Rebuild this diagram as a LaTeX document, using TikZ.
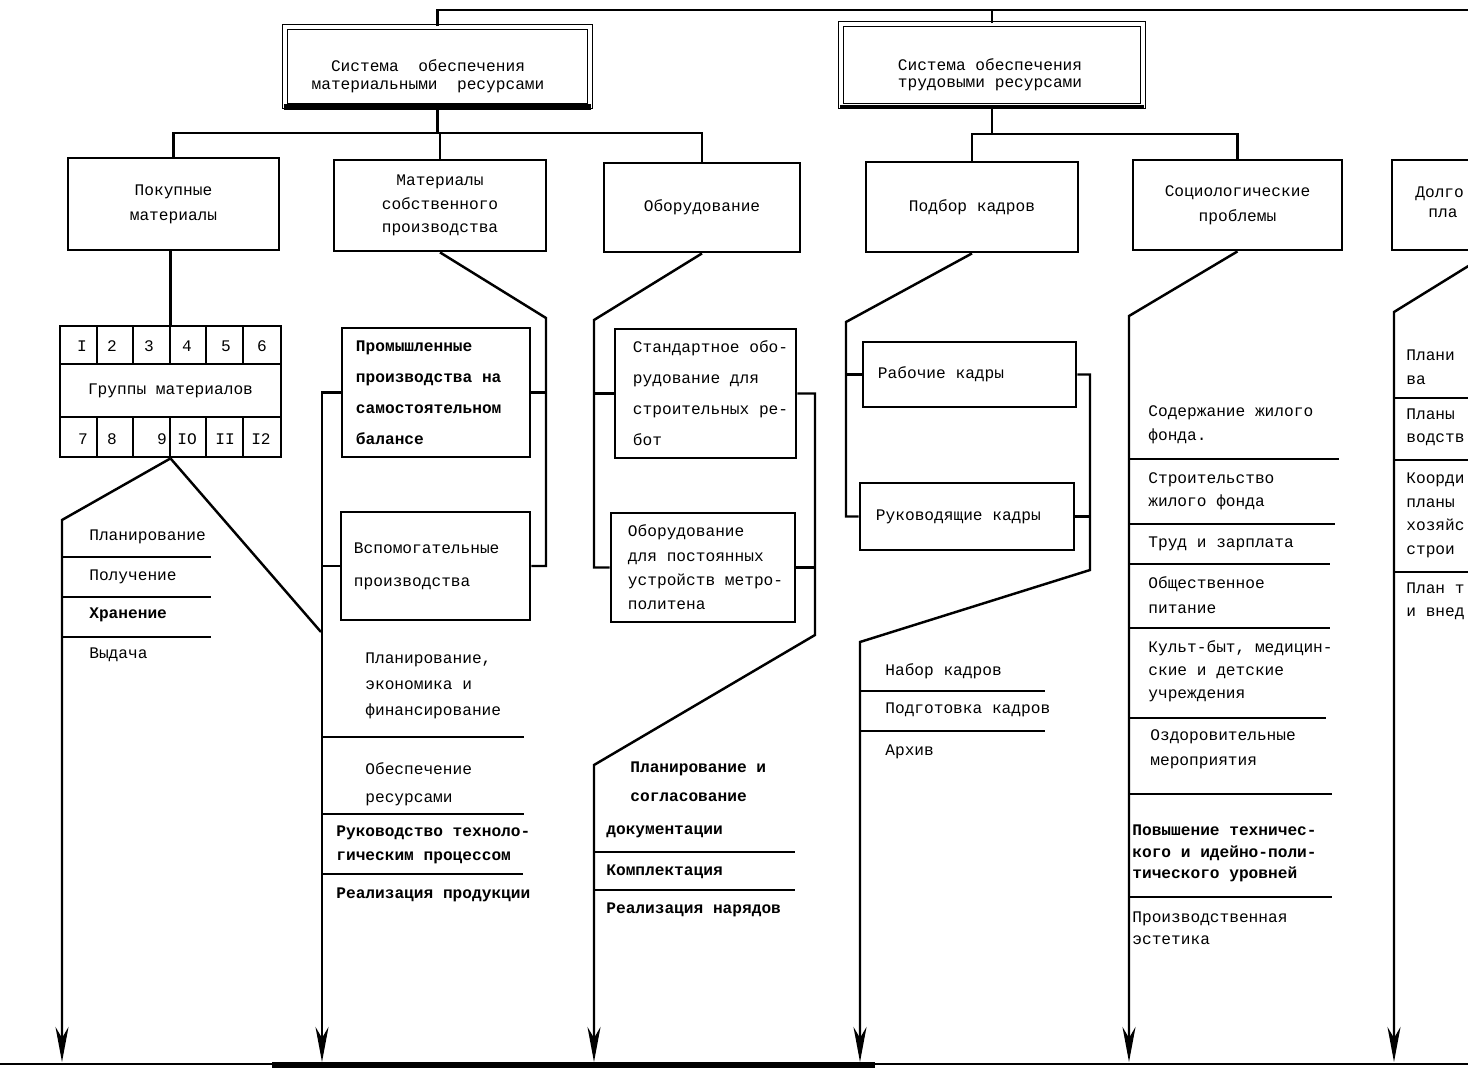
\documentclass[tikz,border=0pt]{standalone}
\usepackage{fontspec}
\setmainfont{Liberation Mono}
\setmonofont{Liberation Mono}
\usetikzlibrary{arrows.meta,positioning}

\newcommand{\tsk}[1]{\fontsize{9.2}{#1}\selectfont}

\tikzset{
  sysbox/.style={draw, double, double distance=1.8pt, line width=0.9pt, inner sep=0pt},
  blk/.style={draw, line width=1.6pt, inner sep=0pt, align=center},
  txt/.style={inner sep=0pt, align=left, anchor=west},
  conn/.style={line width=1.4pt},
  sepl/.style={line width=1.5pt},
  arr/.style={-{Stealth[length=0.7cm, width=0.26cm, inset=0.22cm]}},
}

\begin{document}
\begin{tikzpicture}[x=0.02cm, y=-0.02cm, font=\tsk{13}]
    \useasboundingbox (0,0) rectangle (1468,1068);
    \clip (0,0) rectangle (1468,1068);

    % systems
    \node[sysbox, minimum width=6.1cm, minimum height=1.58cm] (sysM) at (437.5,66.5) {};
    \node[align=center, inner sep=0pt, font=\tsk{10.2}] (sysMt) at (428,76)
        {Система~ обеспечения\\материальными~ ресурсами};
    \node[sysbox, minimum width=6.04cm, minimum height=1.64cm] (sysT) at (992,65) {};
    \node[align=center, inner sep=0pt, font=\tsk{9.5}] (sysTt) at (990,75)
        {Система обеспечения\\трудовыми ресурсами};
    \draw[line width=3.5pt] (sysM.south west) -- (sysM.south east);
    \draw[line width=2.5pt] (sysT.south west) -- (sysT.south east);

    \coordinate (topR) at (1468,10);
    \draw[conn] (sysM.north) |- (topR);
    \draw[conn] (sysT.north) -- (sysT.north |- topR);

    % second level
    \node[blk, minimum width=4.22cm, minimum height=1.84cm, font=\tsk{14.2}] (pokB) at (173.5,204) {Покупные\\материалы};
    \node[blk, minimum width=4.24cm, minimum height=1.82cm, font=\tsk{13.3}] (matB) at (440,205.5) {Материалы\\собственного\\производства};
    \node[blk, minimum width=3.92cm, minimum height=1.78cm] (obB) at (702,207.5) {Оборудование};
    \node[blk, minimum width=4.24cm, minimum height=1.8cm] (kadB) at (972,207) {Подбор кадров};
    \node[blk, minimum width=4.18cm, minimum height=1.8cm, font=\tsk{14.2}] (socB) at (1237.5,205) {Социологические\\проблемы};
    \node[blk, minimum width=4cm, minimum height=1.8cm] (dolB) at (1492,205) {};
    \node[txt, font=\tsk{11.3}] (dolT) at (1415,202) {Долго\\\hspace*{0.26cm}пла};

    \draw[conn] (sysM.south) -- ++(0,26) coordinate (busM);
    \draw[conn] (pokB.north) |- (obB.north |- busM) -- (obB.north);
    \draw[conn] (matB.north) -- (matB.north |- busM);
    \draw[conn] (sysT.south) -- ++(0,27) coordinate (busT);
    \draw[conn] (kadB.north) |- (busT) -| (socB.north);

    % groups of materials
    \node[blk, minimum width=4.42cm, minimum height=2.62cm] (grp) at (170.5,391.5) {};
    \node (grpT) at (170.5,391) {Группы материалов};
    \foreach \y in {364,417} \draw[sepl] (60,\y) -- (281,\y);
    \foreach \x in {97,133,170,206,243} {
        \draw[sepl] (\x,326) -- (\x,364);
        \draw[sepl] (\x,417) -- (\x,457);
    }
    \foreach \n/\x [count=\i] in {I/82,2/112,3/149,4/187,5/226,6/262}
        \node (nt\i) at (\x,346) {\n};
    \foreach \n/\x [count=\i] in {7/83,8/112,9/162,IO/187,II/225,I2/261}
        \node (nb\i) at (\x,439) {\n};
    \draw[conn] (grp.north) -- (grp.north |- pokB.south);

    % third level boxes
    \node[blk, minimum width=3.76cm, minimum height=2.58cm] (promB) at (436,392.5) {};
    \node[txt, font=\bfseries\tsk{17.6}, right=0.3cm of promB.west] (promT)
        {Промышленные\\производства на\\самостоятельном\\балансе};
    \node[blk, minimum width=3.78cm, minimum height=2.16cm] (vspB) at (435.5,566) {};
    \node[txt, font=\tsk{18.7}, right=0.28cm of vspB.west] (vspT)
        {Вспомогательные\\производства};
    \node[blk, minimum width=3.62cm, minimum height=2.58cm] (stdB) at (705.5,393.5) {};
    \node[txt, font=\tsk{17.6}, right=0.38cm of stdB.west] (stdT)
        {Стандартное обо-\\рудование для\\строительных ре-\\бот};
    \node[blk, minimum width=3.68cm, minimum height=2.18cm] (metB) at (703,567.5) {};
    \node[txt, font=\tsk{13.9}, right=0.36cm of metB.west] (metT)
        {Оборудование\\для постоянных\\устройств метро-\\политена};
    \node[blk, minimum width=4.26cm, minimum height=1.3cm] (rabB) at (969.5,374.5) {};
    \node[txt, right=0.32cm of rabB.west] (rabT) {Рабочие кадры};
    \node[blk, minimum width=4.28cm, minimum height=1.34cm] (rukB) at (967,516.5) {};
    \node[txt, right=0.34cm of rukB.west] (rukT) {Руководящие кадры};

    % column 1
    \coordinate (c1a) at (62,520);
    \coordinate (c1b) at (321,632);
    \coordinate (bot) at (0,1062);
    \draw[conn, arr] (grp.south) -- (c1a) -- (c1a |- bot);
    \draw[conn] (grp.south) -- (c1b);
    \node[txt] (l1a) at (89,537) {Планирование};
    \node[txt] (l1b) at (89,577) {Получение};
    \node[txt, font=\bfseries\tsk{13}] (l1c) at (89,615) {Хранение};
    \node[txt] (l1d) at (89,655) {Выдача};
    \foreach \y in {557,597,637} \draw[sepl] (62,\y) -- (211,\y);

    % column 2
    \coordinate (c2r) at (546,318);
    \coordinate (c2l) at (322,1062);
    \draw[conn] (matB.south) -- (c2r) |- (vspB.east);
    \draw[conn] (promB.east) -- (promB.east -| c2r);
    \draw[conn, arr] (promB.west) -| (c2l);
    \draw[conn] (vspB.west) -- (vspB.west -| c2l);
    \node[txt, font=\tsk{14.7}] (l2a) at (365,686) {Планирование,\\экономика и\\финансирование};
    \node[txt, font=\tsk{15.9}] (l2b) at (365,784) {Обеспечение\\ресурсами};
    \node[txt, font=\bfseries\tsk{13.6}] (l2c) at (336,845) {Руководство техноло-\\гическим процессом};
    \node[txt, font=\bfseries\tsk{13}] (l2d) at (336,895) {Реализация продукции};
    \draw[sepl] (322,737) -- (524,737);
    \draw[sepl] (322,814) -- (524,814);
    \draw[sepl] (322,874) -- (523,874);

    % column 3
    \coordinate (c3l) at (594,320);
    \coordinate (c3r) at (815,635);
    \coordinate (c3d) at (594,765);
    \draw[conn] (obB.south) -- (c3l) |- (metB.west);
    \draw[conn] (stdB.west) -- (stdB.west -| c3l);
    \draw[conn, arr] (stdB.east) -| (c3r) -- (c3d) -- (c3d |- bot);
    \draw[conn] (metB.east) -- (metB.east -| c3r);
    \node[txt, font=\bfseries\tsk{16.4}] (l3a) at (630,782) {Планирование и\\согласование};
    \node[txt, font=\bfseries\tsk{13}] (l3b) at (606,832) {документации};
    \node[txt, font=\bfseries\tsk{13}] (l3c) at (606,872) {Комплектация};
    \node[txt, font=\bfseries\tsk{13}] (l3d) at (606,910) {Реализация нарядов};
    \draw[sepl] (594,852) -- (795,852);
    \draw[sepl] (594,890) -- (795,890);

    % column 4
    \coordinate (c4l) at (846,322);
    \coordinate (c4r) at (1090,570);
    \coordinate (c4d) at (860,642);
    \draw[conn] (kadB.south) -- (c4l) |- (rukB.west);
    \draw[conn] (rabB.west) -- (rabB.west -| c4l);
    \draw[conn, arr] (rabB.east) -| (c4r) -- (c4d) -- (c4d |- bot);
    \draw[conn] (rukB.east) -- (rukB.east -| c4r);
    \node[txt] (l4a) at (885,671) {Набор кадров};
    \node[txt] (l4b) at (885,710) {Подготовка кадров};
    \node[txt] (l4c) at (885,752) {Архив};
    \draw[sepl] (860,691) -- (1045,691);
    \draw[sepl] (860,731) -- (1045,731);

    % column 5
    \coordinate (c5) at (1129,316);
    \draw[conn, arr] (socB.south) -- (c5) -- (c5 |- bot);
    \node[txt, font=\tsk{13.6}] (l5a) at (1148,425) {Содержание жилого\\фонда.};
    \node[txt, font=\tsk{13}] (l5b) at (1148,491.5) {Строительство\\жилого фонда};
    \node[txt] (l5c) at (1148,544) {Труд и зарплата};
    \node[txt, font=\tsk{14.2}] (l5d) at (1148,595.5) {Общественное\\питание};
    \node[txt, font=\tsk{13.2}] (l5e) at (1148,671.5) {Культ-быт, медицин-\\ские и детские\\учреждения};
    \node[txt, font=\tsk{14.2}] (l5f) at (1150,749.5) {Оздоровительные\\мероприятия};
    \node[txt, font=\bfseries\tsk{12.2}] (l5g) at (1132,853.5) {Повышение техничес-\\кого и идейно-поли-\\тического уровней};
    \node[txt, font=\tsk{12.5}] (l5h) at (1132,928) {Производственная\\эстетика};
    \foreach \y/\e in {459/1339,524/1335,564/1330,628/1330,718/1326,794/1332,897/1332}
        \draw[sepl] (1129,\y) -- (\e,\y);

    % column 6
    \coordinate (c6) at (1394,312);
    \draw[conn, arr] (dolB.south) -- (c6) -- (c6 |- bot);
    \node[txt, font=\tsk{13.6}] (l6a) at (1406,367) {Плани\\ва};
    \node[txt, font=\tsk{13}] (l6b) at (1406,427.5) {Планы\\водств};
    \node[txt, font=\tsk{13.4}] (l6c) at (1406,515.5) {Коорди\\планы\\хозяйс\\строи};
    \node[txt, font=\tsk{13}] (l6d) at (1406,601.5) {План т\\и внед};
    \foreach \y in {398,460,572} \draw[sepl] (1394,\y) -- (1468,\y);

    % bottom edge
    \draw[line width=1.2pt] (0,1064) -- (1468,1064);
    \draw[line width=3.5pt] (272,1065) -- (875,1065);
\end{tikzpicture}
\end{document}
